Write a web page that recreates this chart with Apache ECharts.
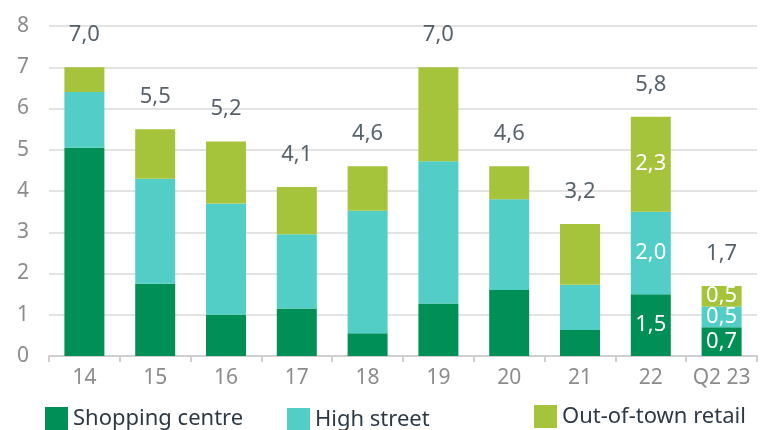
<!DOCTYPE html>
<html><head><meta charset="utf-8">
<script src="https://cdn.jsdelivr.net/npm/echarts@6/dist/echarts.min.js"></script>
<style>html,body{margin:0;padding:0;background:#fff}#c{width:774px;height:430px}</style>
</head><body><div id="c"></div>
<script>
const categories = ['14','15','16','17','18','19','20','21','22','Q2 23'];
const shoppingCentre = [5.05, 1.75, 1.0, 1.15, 0.55, 1.27, 1.6, 0.63, 1.5, 0.7];
const highStreet     = [1.35, 2.55, 2.7, 1.8, 2.97, 3.45, 2.2, 1.1, 2.0, 0.5];
const outOfTown      = [0.6, 1.2, 1.5, 1.15, 1.08, 2.28, 0.8, 1.47, 2.3, 0.5];
const totals         = [7.0, 5.5, 5.2, 4.1, 4.6, 7.0, 4.6, 3.2, 5.8, 1.7];
const labelledIdx    = [8, 9];
const yTicks = [0,1,2,3,4,5,6,7,8];

const FONT = '"Noto Sans", sans-serif';
const fmt = v => v.toFixed(1).replace('.', ',');
const mk = arr => arr.map((v, i) => ({
  value: v,
  label: { show: labelledIdx.includes(i) }
}));
const inLabel = { position: 'inside', color: '#ffffff', fontSize: 22, fontFamily: FONT,
  formatter: p => fmt(p.value) };

const chart = echarts.init(document.getElementById('c'), null, {renderer: 'canvas'});
const legendText = { color: '#2d3a45', fontSize: 22, fontFamily: FONT };
chart.setOption({
  animation: false,
  grid: { left: 49, right: 17, top: 26, bottom: 74 },
  legend: [
    { data: ['Shopping centre'], left: 40, top: 402, itemWidth: 23, itemHeight: 23, itemGap: 8, textStyle: legendText, icon: 'rect' },
    { data: ['High street'], left: 282, top: 403, itemWidth: 23, itemHeight: 23, textStyle: legendText, icon: 'rect' },
    { data: ['Out-of-town retail'], left: 529, top: 400, itemWidth: 23, itemHeight: 23, textStyle: legendText, icon: 'rect' }
  ],
  xAxis: {
    type: 'category', data: categories,
    axisLine: { lineStyle: { color: '#cfcfcf', width: 2 } },
    axisTick: { show: true, length: 6, lineStyle: { color: '#cfcfcf', width: 2 } },
    axisLabel: { color: '#8c8c8c', fontSize: 21, fontFamily: FONT, margin: 12, interval: 0 }
  },
  yAxis: {
    type: 'value', min: yTicks[0], max: yTicks[yTicks.length-1], interval: 1,
    splitLine: { lineStyle: { color: '#dadada', width: 1.5 } },
    axisLabel: { color: '#8c8c8c', fontSize: 21, fontFamily: FONT, margin: 20 }
  },
  series: [
    { name: 'Shopping centre', type: 'bar', stack: 's', barWidth: 40, data: mk(shoppingCentre),
      itemStyle: { color: '#009057' }, label: inLabel },
    { name: 'High street', type: 'bar', stack: 's', barWidth: 40, data: mk(highStreet),
      itemStyle: { color: '#52cec6' }, label: inLabel },
    { name: 'Out-of-town retail', type: 'bar', stack: 's', barWidth: 40, data: mk(outOfTown),
      itemStyle: { color: '#a5c33b' }, label: inLabel },
    { name: 'total', type: 'scatter', data: totals, symbolSize: 1, itemStyle: { color: 'rgba(0,0,0,0)' },
      label: { show: true, position: 'top', distance: 21, color: '#2d3a45', fontSize: 22, fontFamily: FONT,
        formatter: p => fmt(p.value) } }
  ]
});
</script></body></html>
